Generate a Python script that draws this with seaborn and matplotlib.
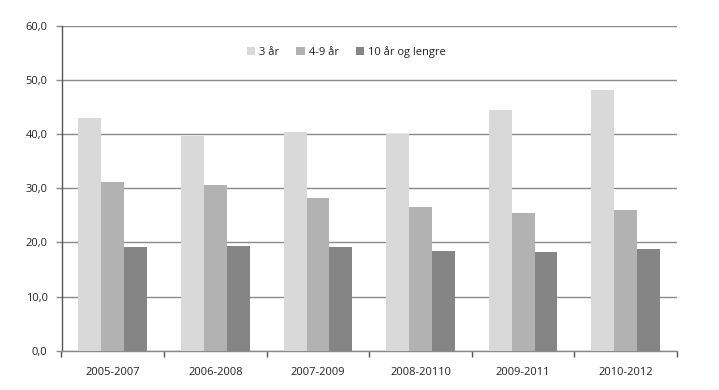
import matplotlib
matplotlib.use("Agg")
import matplotlib.pyplot as plt
import seaborn as sns
import pandas as pd
from matplotlib.ticker import FuncFormatter, MultipleLocator

periods = ["2005-2007", "2006-2008", "2007-2009", "2008-20110", "2009-2011", "2010-2012"]
series_names = ["3 år", "4-9 år", "10 år og lengre"]
v_3 = [43.0, 39.6, 40.4, 40.0, 44.5, 48.1]
v_4_9 = [31.2, 30.6, 28.2, 26.5, 25.4, 26.0]
v_10 = [19.2, 19.4, 19.2, 18.5, 18.3, 18.8]

df = pd.DataFrame({
    "periode": periods * 3,
    "serie": [series_names[0]] * 6 + [series_names[1]] * 6 + [series_names[2]] * 6,
    "verdi": v_3 + v_4_9 + v_10,
})

sns.set_style("white")
plt.rcParams["font.family"] = ["Open Sans", "DejaVu Sans"]

fig = plt.figure(figsize=(7.19, 3.9), dpi=100)
ax = fig.add_axes([61.5 / 719, 1 - 350.7 / 390, (677 - 61.5) / 719, (350.7 - 26) / 390])

palette = ["#d9d9d9", "#b2b2b2", "#858585"]
sns.barplot(data=df, x="periode", y="verdi", hue="serie", palette=palette,
            width=0.67, gap=0, saturation=1, ax=ax, edgecolor="none", zorder=3)

ax.set_ylim(0, 60)
ax.set_xlim(-0.5, 5.5)
ax.yaxis.set_major_locator(MultipleLocator(10))
ax.yaxis.set_major_formatter(FuncFormatter(lambda v, p: f"{v:.1f}".replace(".", ",")))
ax.grid(axis="y", color="#8a8a8a", linewidth=1.0, zorder=0)
ax.set_axisbelow(True)

for s in ["top", "right"]:
    ax.spines[s].set_visible(False)
ax.spines["left"].set_color("#555555")
ax.spines["left"].set_linewidth(1.0)
ax.spines["bottom"].set_color("#8a8a8a")
ax.spines["bottom"].set_linewidth(1.0)

ax.set_xticks([i + 0.5 for i in range(-1, 6)], minor=True)
ax.set_xticks(range(6))
ax.set_xticklabels(periods)
ax.tick_params(axis="x", which="major", length=0, pad=12, labelsize=8, colors="#222222")
ax.tick_params(axis="x", which="minor", length=4, width=1, color="#555555", direction="out", bottom=True)
ax.tick_params(axis="y", length=4, width=1, color="#8a8a8a", left=True, labelsize=8, pad=6, labelcolor="#222222")
ax.set_xlabel("")
ax.set_ylabel("")

leg = ax.legend(loc="center", bbox_to_anchor=(0.463, 0.92), ncol=3, frameon=False,
                fontsize=8, handlelength=0.75, handleheight=0.75, handletextpad=0.4,
                columnspacing=1.5)
for t in leg.get_texts():
    t.set_color("#222222")

fig.savefig("out.png", dpi=100)
